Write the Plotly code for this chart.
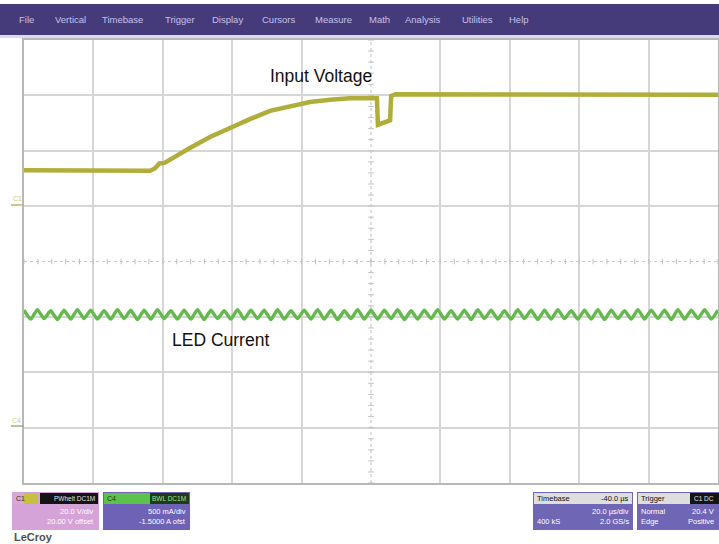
import plotly.graph_objects as go

W, H = 719, 544

# ---------------- data ----------------
# Channel 1 (Input Voltage): time in us, level in divisions
volt_time = [-100.0, -63.7, -62.3, -61.0, -59.5, -56.5, -52.2, -46.4, -40.3, -34.9,
             -29.1, -23.3, -17.6, -11.8, -6.1, 1.7, 2.0, 5.5, 5.8, 7.0, 40.0, 100.0]
volt_div = [1.65, 1.64, 1.68, 1.77, 1.78, 1.90, 2.05, 2.25, 2.43, 2.57,
            2.72, 2.81, 2.88, 2.92, 2.95, 2.95, 2.47, 2.55, 2.99, 3.02, 3.02, 3.01]

# Channel 4 (LED Current): ripple peaks/troughs, in divisions, sampled every half ripple period
led_start_us = -100.0
led_half_period_us = 1.923
led_div = [
    -0.88, -1.04, -0.87, -1.03, -0.89, -1.05, -0.88, -1.04, -0.87, -1.03,
    -0.88, -1.04, -0.89, -1.04, -0.87, -1.03, -0.88, -1.05, -0.88, -1.04,
    -0.87, -1.03, -0.89, -1.04, -0.88, -1.04, -0.87, -1.05, -0.88, -1.03,
    -0.89, -1.04, -0.87, -1.04, -0.88, -1.03, -0.88, -1.05, -0.87, -1.04,
    -0.89, -1.03, -0.88, -1.04, -0.87, -1.04, -0.88, -1.05, -0.89, -1.03,
    -0.87, -1.04, -0.88, -1.04, -0.88, -1.03, -0.87, -1.05, -0.89, -1.04,
    -0.88, -1.03, -0.87, -1.04, -0.89, -1.04, -0.88, -1.05, -0.87, -1.03,
    -0.88, -1.04, -0.89, -1.04, -0.87, -1.03, -0.88, -1.05, -0.88, -1.04,
    -0.87, -1.03, -0.89, -1.04, -0.88, -1.04, -0.87, -1.05, -0.88, -1.03,
    -0.89, -1.04, -0.87, -1.04, -0.88, -1.03, -0.88, -1.05, -0.87, -1.04,
    -0.88, -1.03, -0.87, -1.04, -0.88,
]

trigger_time_us = -40.0
menu_items = ["File", "Vertical", "Timebase", "Trigger", "Display", "Cursors",
              "Measure", "Math", "Analysis", "Utilities", "Help"]

# ---------------- helpers ----------------
def px(x):
    return x / W

def py(y):
    return 1 - y / H

fig = go.Figure()

# center graticule ticks
tick_x = [i * 4.0 - 100 for i in range(51)]
tick_y = [i * 0.2 - 4 for i in range(41)]
fig.add_trace(go.Scatter(x=tick_x, y=[0] * len(tick_x), mode="markers",
                         marker=dict(symbol="line-ns", size=4, line=dict(color="#c4c4c4", width=1.1)),
                         hoverinfo="skip", showlegend=False))
fig.add_trace(go.Scatter(x=[0] * len(tick_y), y=tick_y, mode="markers",
                         marker=dict(symbol="line-ew", size=4, line=dict(color="#c4c4c4", width=1.1)),
                         hoverinfo="skip", showlegend=False))

fig.add_trace(go.Scatter(x=volt_time, y=volt_div, mode="lines",
                         line=dict(color="#b0ae3a", width=4.5), name="Input Voltage",
                         showlegend=False))
fig.add_trace(go.Scatter(y=led_div, x0=led_start_us, dx=led_half_period_us, mode="lines",
                         line=dict(color="#63b94b", width=3.4, shape="spline", smoothing=0.5),
                         name="LED Current", showlegend=False))

# trigger position marker
fig.add_trace(go.Scatter(x=[trigger_time_us], y=[-4.06], mode="markers",
                         marker=dict(symbol="triangle-up", size=6, color="#8fb04a"),
                         cliponaxis=False, hoverinfo="skip", showlegend=False))

shapes = []
# center dotted lines
shapes.append(dict(type="line", xref="x", yref="y", x0=-100, x1=100, y0=0, y1=0,
                   line=dict(color="#c8c8c8", width=1.2, dash="dot"), layer="below"))
shapes.append(dict(type="line", xref="x", yref="y", x0=0, x1=0, y0=-4, y1=4,
                   line=dict(color="#c8c8c8", width=1.2, dash="dot"), layer="below"))

# menu bar
shapes.append(dict(type="rect", xref="paper", yref="paper", x0=0, x1=1, y0=py(35), y1=py(4),
                   fillcolor="#453b7a", line=dict(width=0), layer="below"))
shapes.append(dict(type="rect", xref="paper", yref="paper", x0=0, x1=1, y0=py(38), y1=py(35),
                   fillcolor="#dcd9ea", line=dict(width=0), layer="below"))

def panel(x0, x1, body, head_parts):
    shapes.append(dict(type="rect", xref="paper", yref="paper", x0=px(x0), x1=px(x1),
                       y0=py(530), y1=py(492), fillcolor=body, line=dict(width=0)))
    for hx0, hx1, col in head_parts:
        shapes.append(dict(type="rect", xref="paper", yref="paper", x0=px(hx0), x1=px(hx1),
                           y0=py(504), y1=py(493), fillcolor=col, line=dict(width=0)))

panel(12, 99, "#d6a3d8", [(13, 24, "#d8a8da"), (24, 38, "#c6c040"), (40, 98, "#141414")])
panel(103, 190, "#6d62b6", [(104, 150, "#5cc24c"), (150, 189, "#1f3a1a")])
panel(533, 633, "#6f66b6", [(534, 632, "#dedede")])
panel(637, 719, "#6f66b6", [(638, 690, "#dedede"), (690, 719, "#141414")])

annotations = []
def txt(x, y, s, size=8, color="#ffffff", anchor="left", bold=False, family="Liberation Sans"):
    annotations.append(dict(xref="paper", yref="paper", x=px(x), y=py(y), text=("<b>%s</b>" % s) if bold else s,
                            showarrow=False, xanchor=anchor, yanchor="middle",
                            font=dict(size=size, color=color, family=family)))

menu_x = [17, 53, 100, 163, 210, 260, 313, 367, 403, 460, 507]
for label, mx in zip(menu_items, menu_x):
    txt(mx, 20, label, size=9.5, color="#c6c0ec")

# channel markers
txt(11, 199, "C1", size=7, color="#c9c77a")
txt(10, 420, "C4", size=7, color="#c9d47a")
shapes.append(dict(type="line", xref="paper", yref="paper", x0=px(11), x1=px(24), y0=py(205), y1=py(205),
                   line=dict(color="#b9b66a", width=1.5)))
shapes.append(dict(type="line", xref="paper", yref="paper", x0=px(11), x1=px(24), y0=py(426), y1=py(426),
                   line=dict(color="#9bb07a", width=1.5)))

# panel texts
txt(14, 498, "C1", size=7, color="#333300")
txt(97, 498, "PWhelt DC1M", size=6.5, color="#e0e0e0", anchor="right")
txt(96, 511, "20.0 V/div", size=7.5, anchor="right")
txt(96, 521, "20.00 V offset", size=7.5, anchor="right")
txt(105, 498, "C4", size=7, color="#1a3a14")
txt(188, 498, "BWL DC1M", size=6.5, color="#9fe08f", anchor="right")
txt(188, 511, "500 mA/div", size=7.5, anchor="right")
txt(188, 521, "-1.5000 A ofst", size=7.5, anchor="right")
txt(535, 498, "Timebase", size=7.5, color="#111111")
txt(631, 498, "-40.0 µs", size=7.5, color="#111111", anchor="right")
txt(631, 511, "20.0 µs/div", size=7.5, anchor="right")
txt(535, 521, "400 kS", size=7.5)
txt(631, 521, "2.0 GS/s", size=7.5, anchor="right")
txt(639, 498, "Trigger", size=7.5, color="#111111")
txt(716, 498, "C1 DC", size=6.5, color="#e0e0e0", anchor="right")
txt(639, 511, "Normal", size=7.5)
txt(716, 511, "20.4 V", size=7.5, anchor="right")
txt(639, 521, "Edge", size=7.5)
txt(716, 521, "Positive", size=7.5, anchor="right")
txt(12, 537, "LeCroy", size=11, color="#505050", bold=True)

# trace labels
annotations.append(dict(xref="x", yref="y", x=-14.4, y=3.35, text="Input Voltage", showarrow=False,
                        font=dict(size=17.5, color="#111111", family="Liberation Sans")))
annotations.append(dict(xref="x", yref="y", x=-43.5, y=-1.42, text="LED Current", showarrow=False,
                        font=dict(size=17.5, color="#111111", family="Liberation Sans")))

fig.update_layout(
    width=W, height=H, margin=dict(l=0, r=0, t=0, b=0),
    paper_bgcolor="#ffffff", plot_bgcolor="#ffffff",
    shapes=shapes, annotations=annotations, showlegend=False,
    xaxis=dict(domain=[px(24), px(718)], range=[-100, 100],
               tickvals=[-80, -60, -40, -20, 20, 40, 60, 80], showticklabels=False, ticks="",
               showgrid=True, gridcolor="#d6d6d6", gridwidth=1.6, zeroline=False,
               showline=True, mirror=True, linecolor="#b8b8b8", linewidth=2, fixedrange=True),
    yaxis=dict(domain=[py(483), py(40)], range=[-4, 4],
               tickvals=[-3, -2, -1, 1, 2, 3], showticklabels=False, ticks="",
               showgrid=True, gridcolor="#d6d6d6", gridwidth=1.6, zeroline=False,
               showline=True, mirror=True, linecolor="#b8b8b8", linewidth=2, fixedrange=True),
)

fig.write_html("out.html", config={"displayModeBar": False},
               post_script="document.body.style.margin='0px';document.body.style.overflow='hidden';")
